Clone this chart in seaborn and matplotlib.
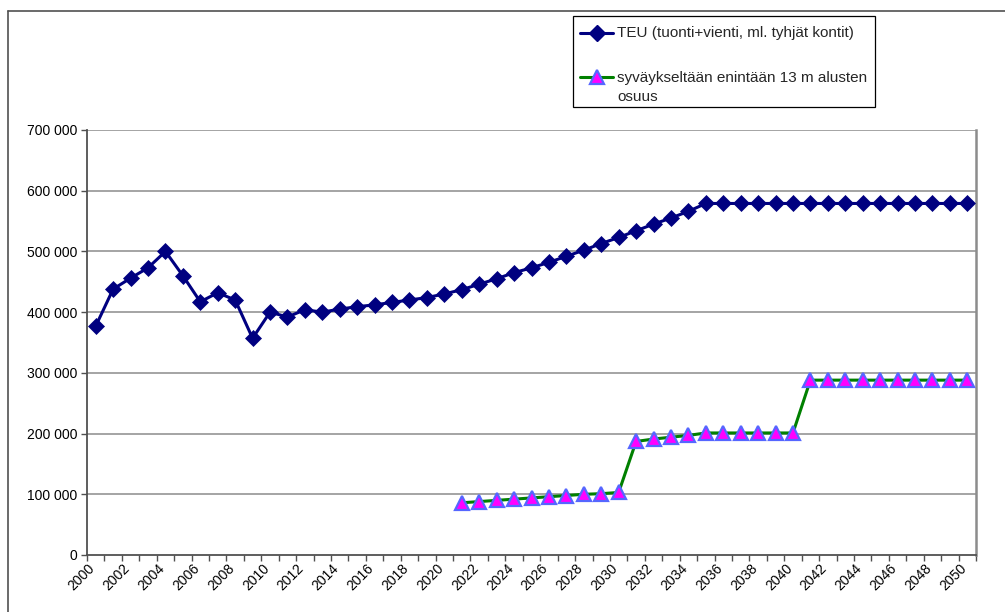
import numpy as np
import pandas as pd
import matplotlib
matplotlib.use("Agg")
import matplotlib.pyplot as plt
import matplotlib.transforms as mtransforms
import seaborn as sns
from matplotlib.lines import Line2D
from matplotlib.patches import Rectangle
from matplotlib.ticker import FuncFormatter

# --- data ---------------------------------------------------------------
years = list(range(2000, 2051))
teu = [377000, 438000, 456000, 473000, 500000, 460000, 417000, 432000, 420000, 357000,
       400000, 392000, 404000, 400000, 405000, 409000, 412000, 416000, 420000, 424000,
       430000, 437000, 446000, 455000, 465000, 473000, 482000, 492000, 502000, 513000,
       523000, 534000, 545000, 555000, 566000, 579000, 579000, 579000, 579000, 579000,
       579000, 579000, 579000, 579000, 579000, 579000, 579000, 579000, 579000, 579000,
       579000]
shallow_years = list(range(2021, 2051))
shallow = [86000, 88000, 90000, 92000, 94000, 96000, 98000, 100000, 101000, 103000,
           187000, 191000, 194000, 197000, 201000, 201000, 201000, 201000, 201000, 201000,
           288000, 288000, 288000, 288000, 288000, 288000, 288000, 288000, 288000, 288000]
label_teu = "TEU (tuonti+vienti, ml. tyhjät kontit)"
label_shallow = ["syväykseltään enintään 13 m alusten", "osuus"]
y_ticks = [0, 100000, 200000, 300000, 400000, 500000, 600000, 700000]
x_labels = list(range(2000, 2051, 2))

df_teu = pd.DataFrame({"year": years, "value": teu})
df_sh = pd.DataFrame({"year": shallow_years, "value": shallow})

# --- style ----------------------------------------------------------------
sns.set_theme(style="white")
plt.rcParams["font.family"] = ["Liberation Sans", "DejaVu Sans"]

W, H = 1005, 612
fig = plt.figure(figsize=(W / 100, H / 100), dpi=100)
fig.patch.set_facecolor("white")

ax = fig.add_axes([87 / W, 1 - 555 / H, (976 - 87) / W, (555 - 130) / H])
ax.set_facecolor("white")

navy = "#000080"
green = "#008000"
sns.lineplot(data=df_teu, x="year", y="value", ax=ax, color=navy, linewidth=2.2,
             marker="D", markersize=8.5, markerfacecolor=navy, markeredgecolor=navy,
             markeredgewidth=0.5, zorder=4)
sns.lineplot(data=df_sh, x="year", y="value", ax=ax, color=green, linewidth=2.2,
             marker="^", markersize=9.5, markerfacecolor="#FF00FF", markeredgecolor="#5566FF",
             markeredgewidth=1.6, zorder=4)

ax.set_xlim(1999.5, 2050.5)
ax.set_ylim(0, 700000)
ax.set_xlabel("")
ax.set_ylabel("")

# horizontal grid lines
for v in y_ticks[1:]:
    ax.axhline(v, color="#8c8c8c", linewidth=1.1, zorder=1)

# y axis
ax.set_yticks(y_ticks)
ax.yaxis.set_major_formatter(FuncFormatter(lambda v, p: f"{int(v):,}".replace(",", " ")))
ax.tick_params(axis="y", which="major", direction="out", length=4, width=1,
               color="#505050", labelsize=10, pad=3, left=True, labelcolor="black")

# x axis: tick marks on category boundaries, labels on even-year centres
ax.set_xticks(np.arange(1999.5, 2051, 1.0))
ax.set_xticklabels([])
ax.tick_params(axis="x", which="major", direction="out", length=4, width=1,
               color="#505050", bottom=True)
ax.set_xticks(x_labels, minor=True)
ax.set_xticklabels([str(y) for y in x_labels], minor=True, rotation=45,
                   ha="right", va="center", rotation_mode="anchor", fontsize=10)
ax.tick_params(axis="x", which="minor", length=0, pad=8, labelcolor="black")
shift = mtransforms.ScaledTranslation(-3 / 100, 0, fig.dpi_scale_trans)
for lbl in ax.get_xticklabels(minor=True):
    lbl.set_transform(lbl.get_transform() + shift)

for side in ["left", "bottom"]:
    ax.spines[side].set_color("#505050")
    ax.spines[side].set_linewidth(1.3)
ax.spines["right"].set_color("#8c8c8c")
ax.spines["right"].set_linewidth(1.8)
ax.spines["top"].set_visible(False)

# chart area border
fig.add_artist(Line2D([8 / W, 1], [1 - 11 / H, 1 - 11 / H], transform=fig.transFigure,
                      color="#505050", linewidth=1.2))
fig.add_artist(Line2D([8 / W, 8 / W], [0, 1 - 11 / H], transform=fig.transFigure,
                      color="#505050", linewidth=1.2))

# legend box
fig.add_artist(Rectangle((573 / W, 1 - 107 / H), (875 - 573) / W, (107 - 16) / H,
                         transform=fig.transFigure, facecolor="white",
                         edgecolor="black", linewidth=0.9))


def fy(py):
    return 1 - py / H


fig.add_artist(Line2D([580 / W, 613 / W], [fy(33), fy(33)], transform=fig.transFigure,
                      color=navy, linewidth=2.2))
fig.add_artist(Line2D([596.5 / W], [fy(33)], transform=fig.transFigure, color=navy,
                      marker="D", markersize=8.5, markerfacecolor=navy, markeredgecolor=navy))
fig.text(617 / W, fy(33), label_teu, fontsize=11, va="center", ha="left")

fig.add_artist(Line2D([580 / W, 613 / W], [fy(77), fy(77)], transform=fig.transFigure,
                      color=green, linewidth=2.2))
fig.add_artist(Line2D([596.5 / W], [fy(77)], transform=fig.transFigure, color=green,
                      marker="^", markersize=9.5, markerfacecolor="#FF00FF",
                      markeredgecolor="#5566FF", markeredgewidth=1.6))
fig.text(617 / W, fy(78), label_shallow[0], fontsize=11, va="center", ha="left")
fig.text(617 / W, fy(97), label_shallow[1], fontsize=11, va="center", ha="left")

fig.savefig("out.png", dpi=100, facecolor="white")
